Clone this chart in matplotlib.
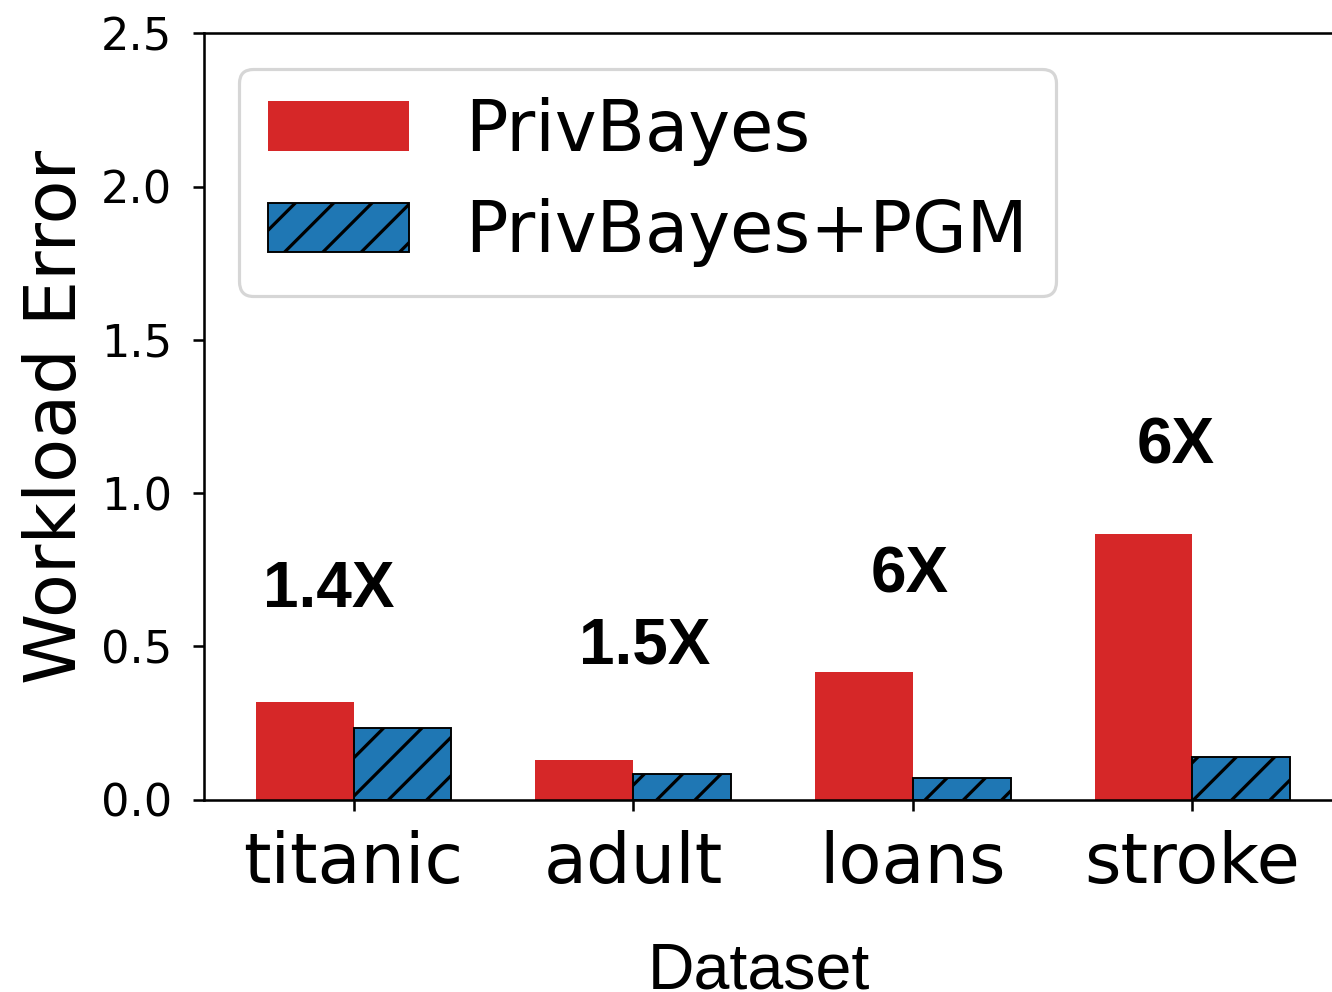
import matplotlib
matplotlib.use("Agg")
import matplotlib.pyplot as plt
import numpy as np

datasets = ["titanic", "adult", "loans", "stroke"]
privbayes = [0.318, 0.129, 0.416, 0.866]
privbayes_pgm = [0.234, 0.082, 0.069, 0.138]
speedup_labels = ["1.4X", "1.5X", "6X", "6X"]
label_dx = [-0.09, 0.04, -0.01, -0.06]
label_y = [0.628, 0.445, 0.677, 1.098]

DPI = 230
fig = plt.figure(figsize=(1332 / DPI, 992 / DPI), dpi=DPI)
ax = fig.add_axes([204 / 1332, 0.194, 0.8544, 0.7724])

x = np.arange(len(datasets))
width = 0.35
ax.bar(x - width / 2, privbayes, width, color="#d62728", linewidth=0, label="PrivBayes")
ax.bar(x + width / 2, privbayes_pgm, width, color="#1f77b4", edgecolor="black",
       linewidth=0.6, hatch="//", label="PrivBayes+PGM")

# speedup annotations above each group
for i, txt in enumerate(speedup_labels):
    ax.text(x[i] + label_dx[i], label_y[i], txt, ha="center", va="baseline",
            fontsize=20, fontweight="bold", family="Liberation Sans")

ax.set_ylim(0, 2.5)
ax.set_yticks([0.0, 0.5, 1.0, 1.5, 2.0, 2.5])
ax.set_xticks(x)
ax.set_xticklabels(datasets, fontsize=22)
ax.tick_params(axis="y", labelsize=14, pad=6.5)
ax.tick_params(axis="x", pad=6)
ax.set_ylabel("Workload Error", fontsize=22.5, labelpad=3)
ax.set_xlabel("Dataset", fontsize=20.2, family="Liberation Sans", labelpad=14)
ax.xaxis.label.set_x(0.488)
ax.legend(loc="upper left", fontsize=22.1, labelspacing=0.46)

fig.savefig("out.png", dpi=DPI)
